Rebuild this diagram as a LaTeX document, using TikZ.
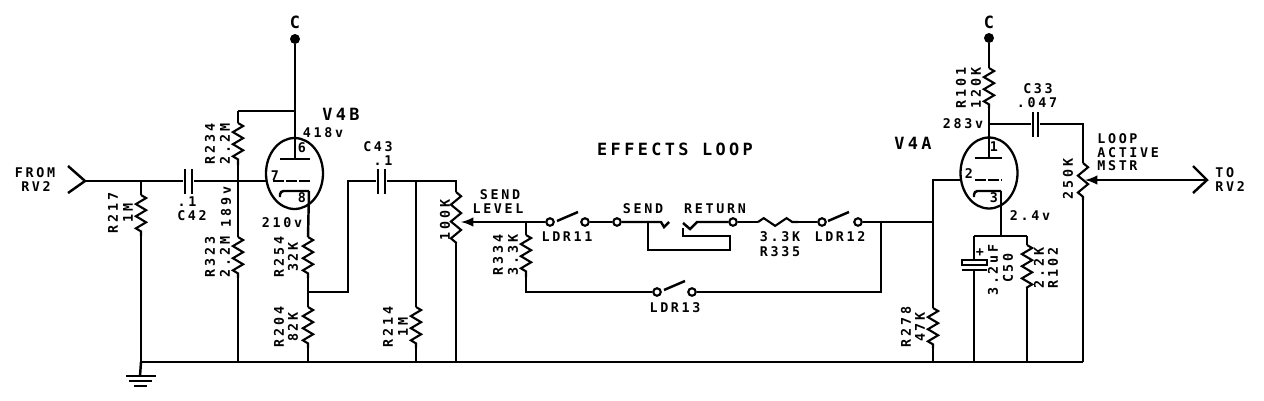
\documentclass[tikz,border=0pt]{standalone}
\usepackage{fontspec}
\setmainfont{DejaVu Sans Mono}[LetterSpace=20]
\usetikzlibrary{arrows, shapes.geometric, decorations.pathmorphing}
\tikzset{>=latex}
\tikzset{
  wire/.style = {line width = 1.4pt, line join = miter},
  res/.style = {line width = 1.2pt, decorate, decoration = {zigzag, amplitude = 2.9pt, segment length = 6.9pt}},
  tube/.style = {ellipse, draw, line width = 1.3pt, minimum width = 1.14cm, minimum height = 1.42cm, inner sep = 0pt},
  contact/.style = {circle, draw, line width = 1.2pt, minimum size = 0.15cm, inner sep = 0pt},
  dot/.style = {circle, fill, minimum size = 0.2cm, inner sep = 0pt},
  plate/.style = {rectangle, fill, minimum width = 1.5pt, minimum height = 0.5cm, inner sep = 0pt},
  lab/.style = {font = \fontsize{7.6}{9}\selectfont\bfseries, inner sep = 0pt},
  biglab/.style = {font = \fontsize{9.6}{11}\selectfont\bfseries, inner sep = 0pt},
  vlab/.style = {lab, rotate = 90}
}
\begin{document}
\begin{tikzpicture}[x = 0.02cm, y = -0.02cm]
\useasboundingbox (0, 0) rectangle (1264, 400);

% tubes
\node[tube] (tubeL) at (294.5, 173.5) {};
\node[tube] (tubeR) at (989, 173) {};

% supply points
\node[dot] (dotL) at (295, 39) {};
\node[dot] (dotR) at (989, 38) {};
\coordinate (plateL) at (295, 159);
\coordinate (plateR) at (989, 158);
\coordinate (r234top) at (238, 111);
\coordinate (tapL) at (295, 111);
\coordinate (tapR) at (989, 124);

% bottom rail
\coordinate (gndIn) at (141, 362);
\coordinate (gndEnd) at (1083, 362);
\draw[wire] (gndIn) -- (gndEnd);

% input side
\coordinate (inTip) at (85, 181);
\coordinate (inNode) at (141, 181);
\coordinate (gridL) at (266, 181);
\node[plate] (c42a) at (185, 181) {};
\node[plate] (c42b) at (192, 181) {};
\draw[wire] (68, 166) -- (inTip) -- (68, 193);
\draw[wire] (inTip) -- (c42a);
\draw[wire] (c42b) -- (gridL);

% R217
\coordinate (r217a) at (141, 195);
\coordinate (r217b) at (141, 236);
\draw[wire] (inNode) -- (r217a);
\draw[res] (r217a) -- (r217b);
\draw[wire] (r217b) -- (gndIn);

% ground
\coordinate (gndFoot) at (140, 376);
\draw[wire] (gndIn) -- (gndFoot);
\draw[wire] (126, 376) -- (156, 376);
\draw[wire] (129, 381) -- (152, 381);
\draw[wire] (134, 386) -- (147, 386);

% V4B plate and divider
\draw[wire] (dotL) -- (plateL);
\draw[wire] (280, 159) -- (310, 159);
\draw[wire] (tapL) -- (r234top);
\coordinate (r234a) at (238, 123);
\coordinate (r234b) at (238, 165);
\coordinate (r323a) at (238, 237);
\coordinate (r323b) at (238, 278);
\coordinate (r323c) at (238, 362);
\draw[wire] (r234top) -- (r234a);
\draw[res] (r234a) -- (r234b);
\draw[wire] (r234b) -- (r323a);
\draw[res] (r323a) -- (r323b);
\draw[wire] (r323b) -- (r323c);
\draw[wire, dashed, dash pattern = on 6pt off 1.5pt] (273, 181) -- (310, 181);

% V4B cathode
\coordinate (cathL) at (309, 191);
\coordinate (r254a) at (308, 237);
\coordinate (r254b) at (308, 278);
\coordinate (tapC) at (308, 292);
\coordinate (r204a) at (308, 307);
\coordinate (r204b) at (308, 348);
\coordinate (r204c) at (308, 362);
\draw[wire, rounded corners = 2pt] (280, 197) -- (280, 191) -- (cathL);
\draw[wire] (cathL) -- (r254a);
\draw[res] (r254a) -- (r254b);
\draw[wire] (r254b) -- (r204a);
\draw[res] (r204a) -- (r204b);
\draw[wire] (r204b) -- (r204c);

% C43 to send pot
\coordinate (cUp) at (348, 181);
\coordinate (cDown) at (348, 292);
\node[plate] (c43a) at (378, 181) {};
\node[plate] (c43b) at (385, 181) {};
\coordinate (r214top) at (416, 181);
\coordinate (r214a) at (416, 307);
\coordinate (r214b) at (416, 348);
\coordinate (r214c) at (416, 362);
\coordinate (potTop) at (456, 181);
\coordinate (potA) at (456, 192);
\coordinate (potB) at (456, 243);
\coordinate (potC) at (456, 362);
\coordinate (potWip) at (461, 222);
\draw[wire] (tapC) -- (cDown) -- (cUp) -- (c43a);
\draw[wire] (c43b) -- (potTop) -- (potA);
\draw[wire] (r214top) -- (r214a);
\draw[res] (r214a) -- (r214b);
\draw[wire] (r214b) -- (r214c);
\draw[res, decoration = {segment length = 9.6pt}] (potA) -- (potB);
\draw[wire] (potB) -- (potC);

% effects loop
\node[contact] (sw11a) at (550, 222) {};
\node[contact] (sw11b) at (585, 222) {};
\node[contact] (sendC) at (617, 222) {};
\node[contact] (retC) at (733, 222) {};
\node[contact] (sw12a) at (822, 222) {};
\node[contact] (sw12b) at (858, 222) {};
\node[contact] (sw13a) at (657, 292) {};
\node[contact] (sw13b) at (692, 292) {};
\coordinate (r334top) at (526, 222);
\coordinate (r334a) at (526, 235);
\coordinate (r334b) at (526, 277);
\coordinate (r334c) at (526, 292);
\coordinate (r335a) at (758, 222);
\coordinate (r335b) at (798, 222);
\coordinate (loopR) at (881, 222);
\coordinate (loopRb) at (881, 292);
\coordinate (r278top) at (933, 222);
\draw[->, wire] (sw11a) -- (potWip);
\draw[wire] (r334top) -- (r334a);
\draw[res] (r334a) -- (r334b);
\draw[wire] (r334b) -- (r334c) -- (sw13a);
\draw[wire] (sw13b) -- (loopRb) -- (loopR);
\draw[wire] (sw11b) -- (sendC);
\draw[wire] (sw12b) -- (r278top);
\draw[wire] (557, 221) -- (578, 212);
\draw[wire] (828, 221) -- (849, 212);
\draw[wire] (664, 290) -- (685, 281);

% send and return jacks
\coordinate (jackS) at (661, 222);
\coordinate (jackR) at (697, 222);
\coordinate (jackTap) at (648, 222);
\draw[wire] (sendC) -- (jackS) -- (664, 227) -- (669, 222);
\draw[wire] (retC) -- (jackR) -- (690, 229) -- (683, 223);
\draw[wire] (jackTap) -- (648, 250) -- (730, 250) -- (730, 236) -- (683, 236) -- (683, 228);
\draw[wire] (retC) -- (r335a);
\draw[res, decoration = {segment length = 13pt, amplitude = 2.2pt}] (r335a) -- (r335b);
\draw[wire] (r335b) -- (sw12a);

% V4A grid side
\coordinate (gridR) at (962, 180);
\coordinate (r278g) at (933, 180);
\coordinate (r278a) at (933, 308);
\coordinate (r278b) at (933, 348);
\coordinate (r278c) at (933, 362);
\draw[wire] (gridR) -- (r278g) -- (r278a);
\draw[res] (r278a) -- (r278b);
\draw[wire] (r278b) -- (r278c);
\draw[wire, dashed, dash pattern = on 6pt off 1.5pt] (975, 180) -- (1002, 180);

% V4A plate
\coordinate (r101a) at (989, 68);
\coordinate (r101b) at (989, 108);
\node[plate] (c33a) at (1033, 124) {};
\node[plate] (c33b) at (1038, 124) {};
\coordinate (mstrTop) at (1083, 124);
\coordinate (mstrA) at (1083, 163);
\coordinate (mstrB) at (1083, 200);
\coordinate (mstrWip) at (1085, 180);
\coordinate (outTip) at (1207, 180);
\draw[wire] (dotR) -- (r101a);
\draw[res] (r101a) -- (r101b);
\draw[wire] (r101b) -- (plateR);
\draw[wire] (975, 158) -- (1002, 158);
\draw[wire] (tapR) -- (c33a);
\draw[wire] (c33b) -- (mstrTop) -- (mstrA);
\draw[res, decoration = {segment length = 9.6pt}] (mstrA) -- (mstrB);
\draw[wire] (mstrB) -- (gndEnd);
\draw[->, wire] (outTip) -- (mstrWip);
\draw[wire] (1193, 166) -- (outTip) -- (1193, 193);

% V4A cathode
\coordinate (cathR) at (1001, 191);
\coordinate (kNode) at (1001, 236);
\coordinate (c50top) at (974, 236);
\coordinate (r102top) at (1027, 236);
\coordinate (r102a) at (1027, 245);
\coordinate (r102b) at (1027, 288);
\coordinate (r102c) at (1027, 362);
\coordinate (c50a) at (974, 259);
\coordinate (c50b) at (974, 270);
\coordinate (c50c) at (974, 362);
\draw[wire, rounded corners = 2pt] (974, 197) -- (974, 191) -- (cathR);
\draw[wire] (cathR) -- (kNode);
\draw[wire] (c50top) -- (r102top);
\draw[wire] (c50top) -- (c50a);
\draw[wire] (962, 260) rectangle (987, 265);
\draw[wire] (962, 270) -- (987, 270);
\draw[wire] (c50b) -- (c50c);
\draw[wire] (r102top) -- (r102a);
\draw[res] (r102a) -- (r102b);
\draw[wire] (r102b) -- (r102c);

% labels
\node[biglab] (lbCL) at (295, 22) {C};
\node[biglab] (lbCR) at (989, 22) {C};
\node[biglab] (lbV4B) at (341, 114) {V4B};
\node[biglab] (lbV4A) at (913, 143) {V4A};
\node[biglab] (lbLoop) at (675, 149) {EFFECTS LOOP};
\node[lab] (lbFrom) at (35, 173) {FROM};
\node[lab] (lbRvL) at (36, 187) {RV2};
\node[lab] (lbPt1) at (187, 202) {.1};
\node[lab] (lbC42) at (192, 216) {C42};
\node[lab] (lbV210) at (282, 223) {210v};
\node[lab] (lbV418) at (323, 133) {418v};
\node[lab] (lbC43) at (378, 147) {C43};
\node[lab] (lbPt2) at (383, 161) {.1};
\node[lab] (lbPin6) at (302, 148) {6};
\node[lab] (lbPin7) at (275, 176) {7};
\node[lab] (lbPin8) at (302, 198) {8};
\node[lab] (lbPin1) at (994, 147) {1};
\node[lab] (lbPin2) at (969, 174) {2};
\node[lab] (lbPin3) at (994, 198) {3};
\node[vlab] (lbR217) at (113, 213) {R217};
\node[vlab] (lbM1) at (128, 213) {1M};
\node[vlab] (lbR234) at (210, 144) {R234};
\node[vlab] (lbM2) at (225, 144) {2.2M};
\node[vlab] (lbV189) at (226, 207) {189v};
\node[vlab] (lbR323) at (210, 257) {R323};
\node[vlab] (lbM3) at (225, 257) {2.2M};
\node[vlab] (lbR254) at (279, 257) {R254};
\node[vlab] (lbK32) at (293, 257) {32K};
\node[vlab] (lbR204) at (279, 327) {R204};
\node[vlab] (lbK82) at (293, 327) {82K};
\node[vlab] (lbR214) at (388, 327) {R214};
\node[vlab] (lbM4) at (403, 327) {1M};
\node[vlab] (lbPot) at (445, 220) {100K};
\node[lab] (lbSendA) at (500, 195) {SEND};
\node[lab] (lbLevel) at (498, 209) {LEVEL};
\node[vlab] (lbR334) at (498, 255) {R334};
\node[vlab] (lbK33) at (513, 255) {3.3K};
\node[lab] (lbLdr11) at (567, 237) {LDR11};
\node[lab] (lbSendB) at (643, 209) {SEND};
\node[lab] (lbRet) at (715, 209) {RETURN};
\node[lab] (lbK3R) at (780, 237) {3.3K};
\node[lab] (lbR335) at (780, 252) {R335};
\node[lab] (lbLdr12) at (840, 237) {LDR12};
\node[lab] (lbLdr13) at (675, 308) {LDR13};
\node[vlab] (lbR101) at (961, 88) {R101};
\node[vlab] (lbK120) at (976, 88) {120K};
\node[lab] (lbV283) at (963, 124) {283v};
\node[lab] (lbC33) at (1038, 89) {C33};
\node[lab] (lbC047) at (1037, 103) {.047};
\node[lab, anchor = west] (lbLoopA) at (1097, 139) {LOOP};
\node[lab, anchor = west] (lbAct) at (1097, 153) {ACTIVE};
\node[lab, anchor = west] (lbMstr) at (1097, 166) {MSTR};
\node[vlab] (lbK250) at (1068, 179) {250K};
\node[lab, anchor = west] (lbTo) at (1215, 173) {TO};
\node[lab, anchor = west] (lbRvR) at (1215, 187) {RV2};
\node[lab] (lbV24) at (1030, 216) {2.4v};
\node[lab] (lbPlus) at (980, 253) {+};
\node[vlab] (lbR278) at (906, 327) {R278};
\node[vlab] (lbK47) at (920, 327) {47K};
\node[vlab] (lbUf) at (993, 270) {3.2uF};
\node[vlab] (lbC50) at (1008, 268) {C50};
\node[vlab] (lbK22) at (1039, 268) {2.2K};
\node[vlab] (lbR102) at (1053, 268) {R102};
\end{tikzpicture}
\end{document}
